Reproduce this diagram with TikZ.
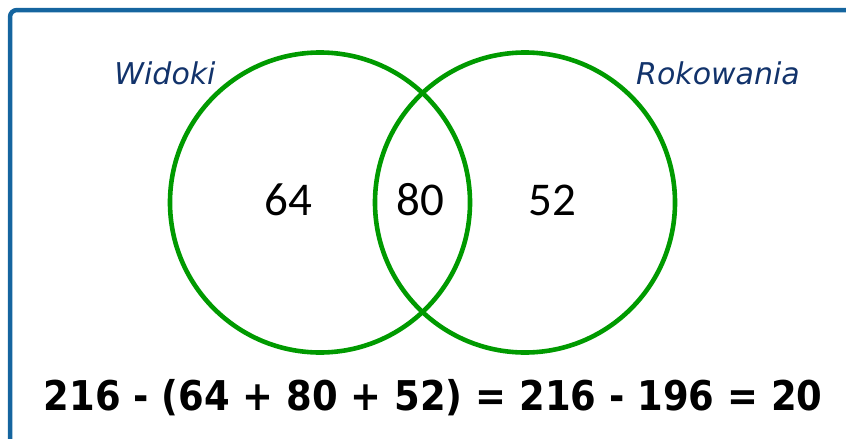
\documentclass[tikz,border=0pt]{standalone}
\usepackage{fontspec}
\setmainfont{DejaVu Sans}
\newfontfamily\numfont{Carlito}
\newfontfamily\eqfont[FakeStretch=0.9,BoldFont=DejaVu Sans Bold,BoldFeatures={FakeStretch=0.9}]{DejaVu Sans}
\definecolor{frameblue}{HTML}{15659F}
\definecolor{venngreen}{HTML}{009A00}
\definecolor{labelnavy}{HTML}{12336B}
\begin{document}
\begin{tikzpicture}[x=1pt,y=-1pt,
  vennset/.style={draw=venngreen,line width=4.6pt},
  setlabel/.style={text=labelnavy,font=\fontsize{30}{36}\selectfont\itshape,inner sep=0pt},
  count/.style={font=\numfont\fontsize{47}{56}\selectfont,inner sep=0pt},
  formula/.style={font=\eqfont\bfseries\fontsize{41}{48}\selectfont,inner sep=0pt}]
\useasboundingbox (0,0) rectangle (846,439);
\begin{scope}
\clip (0,0) rectangle (846,439);
\draw[frameblue,line width=4.5pt,rounded corners=7pt] (10,10) rectangle (900,500);
\end{scope}
\node[vennset,circle,minimum size=300pt,inner sep=0pt] (A) at (320,202.5) {};
\node[vennset,circle,minimum size=300pt,inner sep=0pt] (B) at (525,202.5) {};
\node[setlabel] (la) at (165,73) {Widoki};
\node[setlabel] (lb) at (718,73) {Rokowania};
\node[count] (n1) at (288,200) {64};
\node[count] (n2) at (420,200) {80};
\node[count] (n3) at (552,200) {52};
\node[formula] (eq) at (433,398) {216 - (64 + 80 + 52) = 216 - 196 = 20};
\end{tikzpicture}
\end{document}
